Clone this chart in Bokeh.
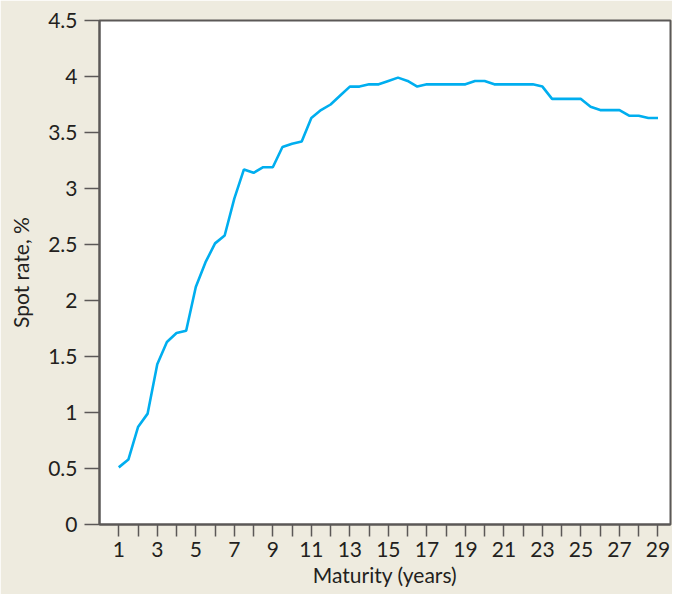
from bokeh.plotting import figure
from bokeh.models import FixedTicker, Range1d
from bokeh.embed import file_html
from bokeh.resources import INLINE

maturity = [1.0, 1.5, 2.0, 2.5, 3.0, 3.5, 4.0, 4.5, 5.0, 5.5, 6.0, 6.5, 7.0, 7.5, 8.0, 8.5,
            9.0, 9.5, 10.0, 10.5, 11.0, 11.5, 12.0, 12.5, 13.0, 13.5, 14.0, 14.5, 15.0, 15.5,
            16.0, 16.5, 17.0, 17.5, 18.0, 18.5, 19.0, 19.5, 20.0, 20.5, 21.0, 21.5, 22.0, 22.5,
            23.0, 23.5, 24.0, 24.5, 25.0, 25.5, 26.0, 26.5, 27.0, 27.5, 28.0, 28.5, 29.0]
spot_rate = [0.51, 0.58, 0.87, 0.99, 1.43, 1.63, 1.71, 1.73, 2.12, 2.34, 2.51, 2.58, 2.91, 3.17,
             3.14, 3.19, 3.19, 3.37, 3.40, 3.42, 3.63, 3.70, 3.75, 3.83, 3.91, 3.91, 3.93, 3.93,
             3.96, 3.99, 3.96, 3.91, 3.93, 3.93, 3.93, 3.93, 3.93, 3.96, 3.96, 3.93, 3.93, 3.93,
             3.93, 3.93, 3.91, 3.80, 3.80, 3.80, 3.80, 3.73, 3.70, 3.70, 3.70, 3.65, 3.65, 3.63,
             3.63]

x_major = [1, 3, 5, 7, 9, 11, 13, 15, 17, 19, 21, 23, 25, 27, 29]
x_minor = [2, 4, 6, 8, 10, 12, 14, 16, 18, 20, 22, 24, 26, 28]
y_ticks = [0, 0.5, 1, 1.5, 2, 2.5, 3, 3.5, 4, 4.5]
y_labels = ["0", "0.5", "1", "1.5", "2", "2.5", "3", "3.5", "4", "4.5"]

BG = "#EEEBDF"
AX = "#5B5857"
TXT = "#231F20"
FONT = "Lato"
FS = "21px"

p = figure(width=672, height=594, output_backend="svg", toolbar_location=None,
           x_range=Range1d(0, 29.65), y_range=Range1d(0, 4.5),
           min_border_left=99, min_border_right=2, min_border_top=20, min_border_bottom=70)

p.background_fill_color = "white"
p.border_fill_color = BG
p.outline_line_color = AX
p.outline_line_width = 2
p.grid.visible = False

p.line(maturity, spot_rate, line_color="#00AEEF", line_width=2.6)

xa = p.xaxis[0]
xa.ticker = FixedTicker(ticks=x_major, minor_ticks=x_minor)
xa.axis_line_color = AX
xa.axis_line_width = 2
xa.major_tick_line_color = AX
xa.minor_tick_line_color = AX
xa.major_tick_line_width = 1.5
xa.minor_tick_line_width = 1.5
xa.major_tick_in = 0
xa.major_tick_out = 12
xa.minor_tick_in = 0
xa.minor_tick_out = 12
xa.major_label_text_font = FONT
xa.major_label_text_font_size = FS
xa.major_label_text_color = TXT
xa.major_label_standoff = 5
xa.axis_label = "Maturity (years)"
xa.axis_label_text_font = FONT
xa.axis_label_text_font_size = FS
xa.axis_label_text_font_style = "normal"
xa.axis_label_text_color = TXT
xa.axis_label_standoff = 2

ya = p.yaxis[0]
ya.ticker = FixedTicker(ticks=y_ticks, minor_ticks=[])
ya.major_label_overrides = {t: l for t, l in zip(y_ticks, y_labels)}
ya.axis_line_color = AX
ya.axis_line_width = 2
ya.major_tick_line_color = AX
ya.major_tick_line_width = 1.5
ya.major_tick_in = 0
ya.major_tick_out = 15
ya.major_label_text_font = FONT
ya.major_label_text_font_size = FS
ya.major_label_text_color = TXT
ya.major_label_standoff = 7
ya.axis_label = "Spot rate, %"
ya.axis_label_text_font = FONT
ya.axis_label_text_font_size = FS
ya.axis_label_text_font_style = "normal"
ya.axis_label_text_color = TXT
ya.axis_label_standoff = 12

open("out.html", "w").write(file_html(p, INLINE))
